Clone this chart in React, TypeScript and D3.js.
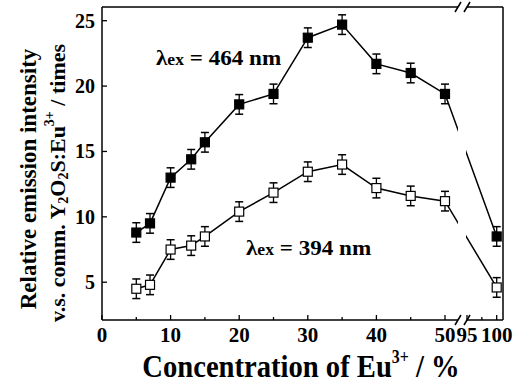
import * as d3 from "d3";

const conc = [5, 7, 10, 13, 15, 20, 25, 30, 35, 40, 45, 50, 100];
const ex464 = [8.8, 9.5, 13.0, 14.4, 15.7, 18.6, 19.4, 23.7, 24.7, 21.7, 21.0, 19.4, 8.5];
const ex394 = [4.5, 4.8, 7.5, 7.8, 8.5, 10.4, 11.85, 13.45, 14.0, 12.2, 11.6, 11.2, 4.6];
const errBar = 0.75;

const xMajor = [0, 10, 20, 30, 40, 50];
const xMinor = [5, 15, 25, 35, 45];
const xMajor2 = [95, 100];
const xMinor2 = [97.5];
const yTicks = [5, 10, 15, 20, 25];

const W = 519;
const H = 385;
const left = 102;
const right = 503;
const top = 7;
const bottom = 320;
const breakX = 463;

const font = "'Liberation Serif', 'Times New Roman', serif";

export default function App() {
  const x1 = d3.scaleLinear().domain([0, 50]).range([left, 445]);
  const x2 = d3.scaleLinear().domain([95, 100]).range([467, 496.7]);
  const x = (v: number) => (v <= 60 ? x1(v) : x2(v));
  const y = d3.scaleLinear().domain([0, 25]).range([347.6, 20.7]);

  const line = d3
    .line<number>()
    .x((_, i) => x(conc[i]))
    .y((d) => y(d));

  const series = [
    { values: ex464, filled: true },
    { values: ex394, filled: false },
  ];

  const sq = 9;
  const cap = 4;

  return (
    <div style={{ position: "absolute", left: 0, top: 0 }}>
      <svg width={W} height={H} style={{ display: "block", background: "#fff" }}>
        {/* data lines */}
        {series.map((s, k) => (
          <path key={k} d={line(s.values) || ""} fill="none" stroke="#000" strokeWidth={1.5} />
        ))}
        {/* gap at axis break */}
        <rect x={breakX - 5} y={top + 2} width={8} height={bottom - top - 4} fill="#fff" />

        {/* error bars + markers */}
        {series.map((s, k) => (
          <g key={k}>
            {s.values.map((v, i) => {
              const cx = x(conc[i]);
              const yHi = y(v + errBar);
              const yLo = y(v - errBar);
              return (
                <g key={i}>
                  <line x1={cx} x2={cx} y1={yHi} y2={yLo} stroke="#000" strokeWidth={1.3} />
                  <line x1={cx - cap} x2={cx + cap} y1={yHi} y2={yHi} stroke="#000" strokeWidth={1.5} />
                  <line x1={cx - cap} x2={cx + cap} y1={yLo} y2={yLo} stroke="#000" strokeWidth={1.5} />
                  <rect
                    x={cx - sq / 2}
                    y={y(v) - sq / 2}
                    width={sq}
                    height={sq}
                    fill={s.filled ? "#000" : "#fff"}
                    stroke="#000"
                    strokeWidth={1.2}
                  />
                </g>
              );
            })}
          </g>
        ))}

        {/* frame with break */}
        <g stroke="#000" strokeWidth={1.5} fill="none">
          <line x1={left} x2={left} y1={top} y2={bottom} />
          <line x1={right} x2={right} y1={top} y2={bottom} />
          <line x1={left} x2={breakX - 5} y1={top} y2={top} />
          <line x1={breakX + 4} x2={right} y1={top} y2={top} />
          <line x1={left} x2={breakX - 5} y1={bottom} y2={bottom} />
          <line x1={breakX + 4} x2={right} y1={bottom} y2={bottom} />
          {[top, bottom].map((yy) => (
            <g key={yy}>
              <line x1={breakX - 8} x2={breakX - 2} y1={yy + 5} y2={yy - 5} />
              <line x1={breakX + 1} x2={breakX + 7} y1={yy + 5} y2={yy - 5} />
            </g>
          ))}
        </g>

        {/* y ticks */}
        {yTicks.map((t) => (
          <g key={t}>
            <line x1={left} x2={left + 5} y1={y(t)} y2={y(t)} stroke="#000" strokeWidth={1.3} />
            <text
              x={95}
              y={y(t)}
              dy="0.35em"
              textAnchor="end"
              fontFamily={font}
              fontWeight="bold"
              fontSize={20}
            >
              {t}
            </text>
          </g>
        ))}

        {/* x ticks */}
        {[...xMajor.map((t) => x1(t)), ...xMajor2.map((t) => x2(t))].map((px, i) => (
          <line key={"M" + i} x1={px} x2={px} y1={bottom} y2={bottom - 5} stroke="#000" strokeWidth={1.3} />
        ))}
        {[...xMinor.map((t) => x1(t)), ...xMinor2.map((t) => x2(t))].map((px, i) => (
          <line key={"m" + i} x1={px} x2={px} y1={bottom} y2={bottom - 3} stroke="#000" strokeWidth={1.3} />
        ))}
        {[...xMajor.map((t) => ({ t, px: x1(t) })), ...xMajor2.map((t) => ({ t, px: x2(t) }))].map((d) => (
          <text
            key={d.t}
            x={d.px}
            y={341.5}
            textAnchor="middle"
            fontFamily={font}
            fontWeight="bold"
            fontSize={21}
          >
            {d.t}
          </text>
        ))}

        {/* annotations */}
        <g transform="translate(156,65) scale(1.1,1)">
          <text fontFamily={font} fontWeight="bold" fontSize={21}>
            λ<tspan fontSize={16}>ex</tspan>
            <tspan> = 464 nm</tspan>
          </text>
        </g>
        <g transform="translate(246,255) scale(1.1,1)">
          <text fontFamily={font} fontWeight="bold" fontSize={21}>
            λ<tspan fontSize={16}>ex</tspan>
            <tspan> = 394 nm</tspan>
          </text>
        </g>

        {/* x title */}
        <g transform="translate(301,377) scale(1.06,1.2)">
          <text textAnchor="middle" fontFamily={font} fontWeight="bold" fontSize={27}>
            Concentration of Eu<tspan fontSize={15} dy={-12}>3+</tspan>
            <tspan dy={12}> / %</tspan>
          </text>
        </g>

        {/* y title */}
        <g transform="translate(36,179) rotate(-90)">
          <text textAnchor="middle" fontFamily={font} fontWeight="bold" fontSize={23}>
            Relative emission intensity
          </text>
        </g>
        <g transform="translate(65,183) rotate(-90)">
          <text textAnchor="middle" fontFamily={font} fontWeight="bold" fontSize={22}>
            v.s. comm. Y<tspan fontSize={14} dy={3}>2</tspan>
            <tspan dy={-3}>O</tspan>
            <tspan fontSize={14} dy={3}>2</tspan>
            <tspan dy={-3}>S:Eu</tspan>
            <tspan fontSize={14} dy={-11}>3+</tspan>
            <tspan dy={11}> / times</tspan>
          </text>
        </g>
      </svg>
    </div>
  );
}
